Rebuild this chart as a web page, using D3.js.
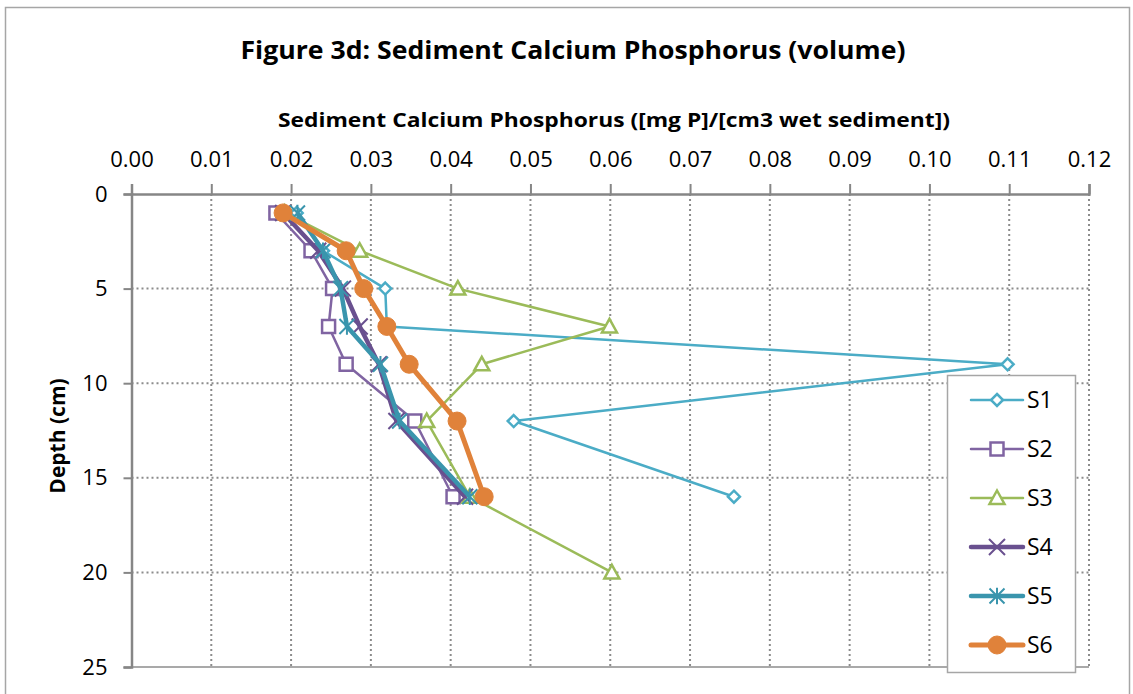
<!DOCTYPE html>
<html>
<head>
<meta charset="utf-8">
<script src="https://cdn.jsdelivr.net/npm/d3@7/dist/d3.min.js"></script>
<style>
  body { margin: 0; background: #fff; }
  svg { font-family: 'Open Sans', 'Noto Sans', sans-serif; }
</style>
</head>
<body>
<svg id="chart"></svg>
<script>
// page size
let outerWidth = 1133
let outerHeight = 694

// plot region in pixels
let margins = { top: 194, bottom: 27, left: 131.5, right: 44 }
let innerWidth = outerWidth - margins.left - margins.right
let innerHeight = outerHeight - margins.top - margins.bottom

// data
let seriesNames = ['S1', 'S2', 'S3', 'S4', 'S5', 'S6']
let depthsA = [1, 3, 5, 7, 9, 12, 16]
let depthsS3 = [1, 3, 5, 7, 9, 12, 16, 20]
let s1 = [0.0207, 0.0240, 0.0318, 0.0320, 0.1098, 0.0479, 0.0755]
let s2 = [0.0181, 0.0225, 0.0252, 0.0247, 0.0269, 0.0355, 0.0403]
let s3 = [0.0192, 0.0286, 0.0409, 0.0599, 0.0439, 0.0370, 0.0424, 0.0602]
let s4 = [0.0190, 0.0234, 0.0265, 0.0286, 0.0310, 0.0332, 0.0418]
let s5 = [0.0208, 0.0240, 0.0262, 0.0270, 0.0312, 0.0336, 0.0424]
let s6 = [0.0190, 0.0269, 0.0291, 0.0320, 0.0348, 0.0408, 0.0442]
let xTicks = [0, 0.01, 0.02, 0.03, 0.04, 0.05, 0.06, 0.07, 0.08, 0.09, 0.10, 0.11, 0.12]
let yTicks = [0, 5, 10, 15, 20, 25]

let colors = ['#4bacc6', '#8064a2', '#9bbb59', '#69508f', '#3a95ad', '#e0823a']
let widths = [2.5, 2.5, 2.5, 4.5, 4.5, 5]
let markers = ['diamond', 'square', 'triangle', 'x', 'star', 'circle']

let series = [
  { name: 'S1', depth: depthsA, vals: s1 },
  { name: 'S2', depth: depthsA, vals: s2 },
  { name: 'S3', depth: depthsS3, vals: s3 },
  { name: 'S4', depth: depthsA, vals: s4 },
  { name: 'S5', depth: depthsA, vals: s5 },
  { name: 'S6', depth: depthsA, vals: s6 }
]

let svg = d3.select('svg#chart')
  .attr('width', outerWidth)
  .attr('height', outerHeight)

// chart border
svg.append('rect')
  .attr('x', 5.5).attr('y', 7.5)
  .attr('width', 1124).attr('height', 700)
  .attr('fill', 'none')
  .attr('stroke', '#a6a6a6')
  .attr('stroke-width', 1.5)

let inner = svg.append('g')
  .attr('transform', 'translate(' + margins.left + ',' + margins.top + ')')

let xScale = d3.scaleLinear().domain([0, 0.12]).range([0, innerWidth])
let yScale = d3.scaleLinear().domain([0, 25]).range([0, innerHeight])

// gridlines (dotted)
inner.append('g')
  .selectAll('line')
  .data(xTicks.slice(1))
  .join('line')
  .attr('x1', d => xScale(d)).attr('x2', d => xScale(d))
  .attr('y1', 0).attr('y2', innerHeight)
  .attr('stroke', '#8c8c8c')
  .attr('stroke-width', 2)
  .attr('stroke-dasharray', '2,3')

inner.append('g')
  .selectAll('line')
  .data(yTicks.slice(1, -1))
  .join('line')
  .attr('x1', 0).attr('x2', innerWidth)
  .attr('y1', d => yScale(d)).attr('y2', d => yScale(d))
  .attr('stroke', '#8c8c8c')
  .attr('stroke-width', 2)
  .attr('stroke-dasharray', '2,3')

// bottom solid line at 25
inner.append('line')
  .attr('x1', 0).attr('x2', innerWidth)
  .attr('y1', innerHeight).attr('y2', innerHeight)
  .attr('stroke', '#8c8c8c').attr('stroke-width', 1.5)

// top axis
let xAxis = d3.axisTop(xScale).tickValues(xTicks).tickFormat(d3.format('.2f')).tickSize(10).tickPadding(17)
let gx = inner.append('g').attr('class', 'x axis').call(xAxis)

// left axis
let yAxis = d3.axisLeft(yScale).tickValues(yTicks).tickSize(8).tickPadding(16)
let gy = inner.append('g').attr('class', 'y axis').call(yAxis)

svg.selectAll('.axis').attr('font-family', null).attr('font-size', null)
svg.selectAll('.axis .domain').attr('stroke', '#868686').attr('stroke-width', 2.5)
svg.selectAll('.axis .tick line').attr('stroke', '#868686').attr('stroke-width', 2)
svg.selectAll('.axis text')
  .attr('font-size', 22)
  .attr('fill', '#000')
gx.selectAll('text').attr('dy', '0')

// marker shapes
function markerPath(type, size) {
  let s = size / 2
  if (type === 'diamond') return `M0,${-s}L${s},0L0,${s}L${-s},0Z`
  if (type === 'square') return `M${-s},${-s}H${s}V${s}H${-s}Z`
  if (type === 'triangle') return `M0,${-s}L${s},${s * 0.8}H${-s}Z`
  if (type === 'x') return `M${-s},${-s}L${s},${s}M${s},${-s}L${-s},${s}`
  if (type === 'star') return `M${-s},${-s}L${s},${s}M${s},${-s}L${-s},${s}M0,${-s * 1.1}V${s * 1.1}`
  return ''
}
let markerSizes = [12, 13, 15, 16, 15, 18]

function drawMarker(g, type, i, x, y) {
  if (type === 'circle') {
    g.append('circle').attr('cx', x).attr('cy', y).attr('r', markerSizes[i] / 2)
      .attr('fill', colors[i]).attr('stroke', colors[i]).attr('stroke-width', 1)
  } else {
    let open = type === 'diamond' || type === 'square' || type === 'triangle'
    g.append('path')
      .attr('transform', `translate(${x},${y})`)
      .attr('d', markerPath(type, markerSizes[i]))
      .attr('fill', open ? '#fff' : 'none')
      .attr('stroke', colors[i])
      .attr('stroke-width', open ? 2.5 : 2)
  }
}

let line = d3.line()
  .x(d => xScale(d[0]))
  .y(d => yScale(d[1]))

series.forEach((s, i) => {
  let pts = s.vals.map((v, k) => [v, s.depth[k]])
  let g = inner.append('g').attr('class', 'series ' + s.name)
  g.append('path')
    .datum(pts)
    .attr('d', line)
    .attr('fill', 'none')
    .attr('stroke', colors[i])
    .attr('stroke-width', widths[i])
    .attr('stroke-linejoin', 'round')
  pts.forEach(p => drawMarker(g, markers[i], i, xScale(p[0]), yScale(p[1])))
})

// legend
let legend = svg.append('g')
legend.append('rect')
  .attr('x', 947.5).attr('y', 375.5)
  .attr('width', 128).attr('height', 297)
  .attr('fill', '#fff')
  .attr('stroke', '#a6a6a6').attr('stroke-width', 1.5)

seriesNames.forEach((n, i) => {
  let y = 400 + i * 49
  let g = legend.append('g')
  g.append('line')
    .attr('x1', 971).attr('x2', 1023)
    .attr('y1', y).attr('y2', y)
    .attr('stroke', colors[i]).attr('stroke-width', widths[i])
    .attr('stroke-linecap', 'round')
  drawMarker(g, markers[i], i, 997, y)
  g.append('text')
    .attr('x', 1027).attr('y', y + 8)
    .attr('font-size', 23)
    .text(n)
})

// titles
svg.append('text')
  .attr('x', 573).attr('y', 59)
  .attr('text-anchor', 'middle')
  .attr('font-size', 25).attr('font-weight', 'bold')
  .attr('textLength', 665).attr('lengthAdjust', 'spacingAndGlyphs')
  .text('Figure 3d: Sediment Calcium Phosphorus (volume)')

svg.append('text')
  .attr('x', 614).attr('y', 127)
  .attr('text-anchor', 'middle')
  .attr('font-size', 20).attr('font-weight', 'bold')
  .attr('textLength', 672).attr('lengthAdjust', 'spacingAndGlyphs')
  .text('Sediment Calcium Phosphorus ([mg P]/[cm3 wet sediment])')

svg.append('text')
  .attr('transform', 'translate(65,436) rotate(-90)')
  .attr('text-anchor', 'middle')
  .attr('font-size', 21).attr('font-weight', 'bold')
  .text('Depth (cm)')
</script>
</body>
</html>
